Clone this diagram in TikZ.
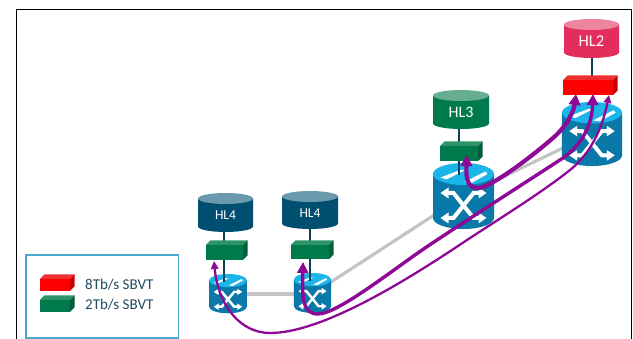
\documentclass[tikz,border=0pt]{standalone}
\usepackage{fontspec}
\setmainfont{Carlito}
\usetikzlibrary{arrows.meta,calc}
\definecolor{rbody}{HTML}{0A78A8}
\definecolor{rtop}{HTML}{1BB5EA}
\definecolor{blueb}{HTML}{004F70}
\definecolor{bluet}{HTML}{6A9AAE}
\definecolor{greenb}{HTML}{007A4D}
\definecolor{greent}{HTML}{66AE92}
\definecolor{greentop}{HTML}{2E9468}
\definecolor{greenside}{HTML}{005F3A}
\definecolor{pinkb}{HTML}{E32D5C}
\definecolor{pinkt}{HTML}{EE85A0}
\definecolor{redtop}{HTML}{F03030}
\definecolor{redside}{HTML}{C80000}
\definecolor{linkc}{HTML}{C4C4C4}
\definecolor{stemc}{HTML}{0B3F5A}
\definecolor{purp}{HTML}{8E0A96}
\definecolor{legtxt}{HTML}{1F4A60}
\definecolor{legbox}{HTML}{4BA9D0}
\tikzset{
  link/.style={draw=linkc,line width=3.2pt},
  stem/.style={draw=stemc,line width=2.4pt},
  pthin/.style={draw=purp,line width=2.3pt,{Triangle[length=8pt,width=7.5pt]}-{Triangle[length=8pt,width=7.5pt]}},
  pmid/.style={draw=purp,line width=3.4pt,{Triangle[length=11pt,width=11pt]}-{Triangle[length=11pt,width=11pt]}},
  pthick/.style={draw=purp,line width=4.2pt,{Triangle[length=11pt,width=11.5pt]}-{Triangle[length=11pt,width=11.5pt]}},
  lab/.style={text=white,inner sep=0pt,anchor=center},
  legt/.style={text=legtxt,font=\fontsize{15}{17}\selectfont,anchor=west,inner sep=0pt}
}
% name, left, right, top, bottom, body, top colour, font size, label
\newcommand{\dbcyl}[9]{%
  \fill[#6] (#2,#4+5.5) -- (#2,#5-5.5) arc[x radius={(#3-#2)/2},y radius=-5.5,start angle=180,end angle=360] -- (#3,#4+5.5) -- cycle;
  \fill[#7] ({(#2+#3)/2},#4+5.5) ellipse[x radius={(#3-#2)/2},y radius=5.5];
  \node[lab,font=\fontsize{#8}{#8}\selectfont] (#1) at ({(#2+#3)/2},{(#4+#5)/2+3}) {#9};
  \coordinate (#1t) at ({(#2+#3)/2},#4);
  \coordinate (#1b) at ({(#2+#3)/2},#5);
}
% name, left, right, top, bottom, front, top colour, side colour
\newcommand{\sbvt}[8]{%
  \fill[#7] (#2,#4) -- (#2+4.5,#4-4.5) -- (#3+4.5,#4-4.5) -- (#3,#4) -- cycle;
  \fill[#8] (#3,#4) -- (#3+4.5,#4-4.5) -- (#3+4.5,#5-4.5) -- (#3,#5) -- cycle;
  \fill[#6] (#2,#4) rectangle (#3,#5);
  \coordinate (#1) at ({(#2+#3)/2},{(#4+#5)/2});
  \coordinate (#1t) at ({(#2+#3)/2},#4-4.5);
  \coordinate (#1b) at ({(#2+#3)/2},#5);
}
% name, centre x, top y, x scale, y scale
\newcommand{\router}[5]{%
  \begin{scope}[shift={(#2,#3)},xscale=#4,yscale=#5]
    \coordinate (#1) at (0,33);
    \coordinate (#1t) at (0,12);
    \fill[rbody] (-30.5,11) -- (-30.5,55) arc[x radius=30.5,y radius=-11,start angle=180,end angle=360] -- (30.5,11) -- cycle;
    \fill[rtop] (0,11) ellipse[x radius=30.5,y radius=11];
    \fill[white] (-23,14.5) -- (-3,7) -- (1,7.5) -- (-17,16.5) -- cycle;
    \fill[white] (1,19) -- (22,8.5) -- (24,11) -- (8,20) -- cycle;
    \pgfmathsetlengthmacro{\rlw}{4pt*#4}
    \begin{scope}[draw=white,fill=white,line width=\rlw]
      \draw (-18,30) -- (-10,30) -- (10,55) -- (18,55);
      \draw (-18,55) -- (-10,55) -- (10,30) -- (18,30);
      \fill (-23,30) -- (-15,24.5) -- (-15,35.5) -- cycle;
      \fill (-23,55) -- (-15,49.5) -- (-15,60.5) -- cycle;
      \fill (23,30) -- (15,24.5) -- (15,35.5) -- cycle;
      \fill (23,55) -- (15,49.5) -- (15,60.5) -- cycle;
    \end{scope}
  \end{scope}
}
\begin{document}
\begin{tikzpicture}[x=1pt,y=-1pt]
\useasboundingbox (0,0) rectangle (633,339);
\fill[white] (0,0) rectangle (633,339);
% page frame
\coordinate (fa) at (16.7,339);
\coordinate (fb) at (16.7,9.7);
\coordinate (fc) at (631.7,9.7);
\coordinate (fd) at (631.7,339);
\draw[black,line width=1pt] (fa) -- (fb) -- (fc) -- (fd);
% anchors for the trunk links
\coordinate (ra) at (228,294);
\coordinate (rb) at (312.5,294);
\coordinate (rc) at (463.5,196);
\coordinate (rd) at (592,134);
\draw[link] (ra) -- (rb);
\draw[link] (rb) -- (rc);
\draw[link] (rc) -- (rd);
% stems
\coordinate (s1) at (224,232);
\coordinate (s1e) at (224,282);
\coordinate (s2) at (310,229);
\coordinate (s2e) at (310,281);
\coordinate (s3) at (459,129);
\coordinate (s3e) at (459,175);
\coordinate (s4) at (592,58);
\coordinate (s4e) at (592,80);
% routers
\router{rt1}{228}{274}{0.62}{0.595}
\router{rt2}{312.5}{273}{0.61}{0.605}
\router{rt3}{463.5}{163}{1}{1}
\router{rt4}{592}{102}{0.985}{0.97}
\draw[stem] (s1) -- (s1e);
\draw[stem] (s2) -- (s2e);
\draw[stem] (s3) -- (s3e);
\draw[stem] (s4) -- (s4e);
% databases
\dbcyl{hla}{198}{253}{193}{232}{blueb}{bluet}{13.5}{HL4}
\dbcyl{hlb}{282}{338}{191}{229}{blueb}{bluet}{13.5}{HL4}
\dbcyl{hlc}{433}{489}{90}{129}{greenb}{greent}{16}{HL3}
\dbcyl{hld}{564}{619}{19}{58}{pinkb}{pinkt}{16.5}{HL2}
% transponders
\sbvt{ba}{206}{243}{245}{260}{greenb}{greentop}{greenside}
\sbvt{bb}{291}{329}{245}{259}{greenb}{greentop}{greenside}
\sbvt{bc}{440}{478}{146}{161}{greenb}{greentop}{greenside}
\sbvt{bd}{563}{613}{80}{95}{red}{redtop}{redside}
% purple wavelengths
\coordinate (pa) at (214,261);
\coordinate (pb) at (303,262);
\coordinate (pc) at (467,155);
\coordinate (qa) at (609,95);
\coordinate (qb) at (593,94);
\coordinate (qc) at (576,94);
\draw[pthin] (pa) .. controls (218,305) and (240,333) .. (270,333) .. controls (320,333) and (400,285) .. (467,240) .. controls (510,212) and (545,190) .. (570,170) .. controls (595,150) and (604,120) .. (qa);
\draw[pmid] (pb) .. controls (302,300) and (303,314) .. (318,314) .. controls (338,314) and (395,268) .. (428,246) .. controls (470,218) and (520,186) .. (563,158) .. controls (585,142) and (592,122) .. (qb);
\draw[pthick] (pc) .. controls (466,175) and (466,188) .. (478,188) .. controls (490,188) and (530,158) .. (553,138) .. controls (568,125) and (574,110) .. (qc);
% legend
\coordinate (la) at (26,255);
\coordinate (lb) at (178.5,338);
\draw[legbox,line width=1.3pt] (la) rectangle (lb);
\sbvt{lr}{40}{70}{279}{291}{red}{redtop}{redside}
\sbvt{lg}{40}{70}{300}{312}{greenb}{greentop}{greenside}
\node[legt] (ltr) at (85,285) {8Tb/s SBVT};
\node[legt] (ltg) at (85,305) {2Tb/s SBVT};
\end{tikzpicture}
\end{document}
